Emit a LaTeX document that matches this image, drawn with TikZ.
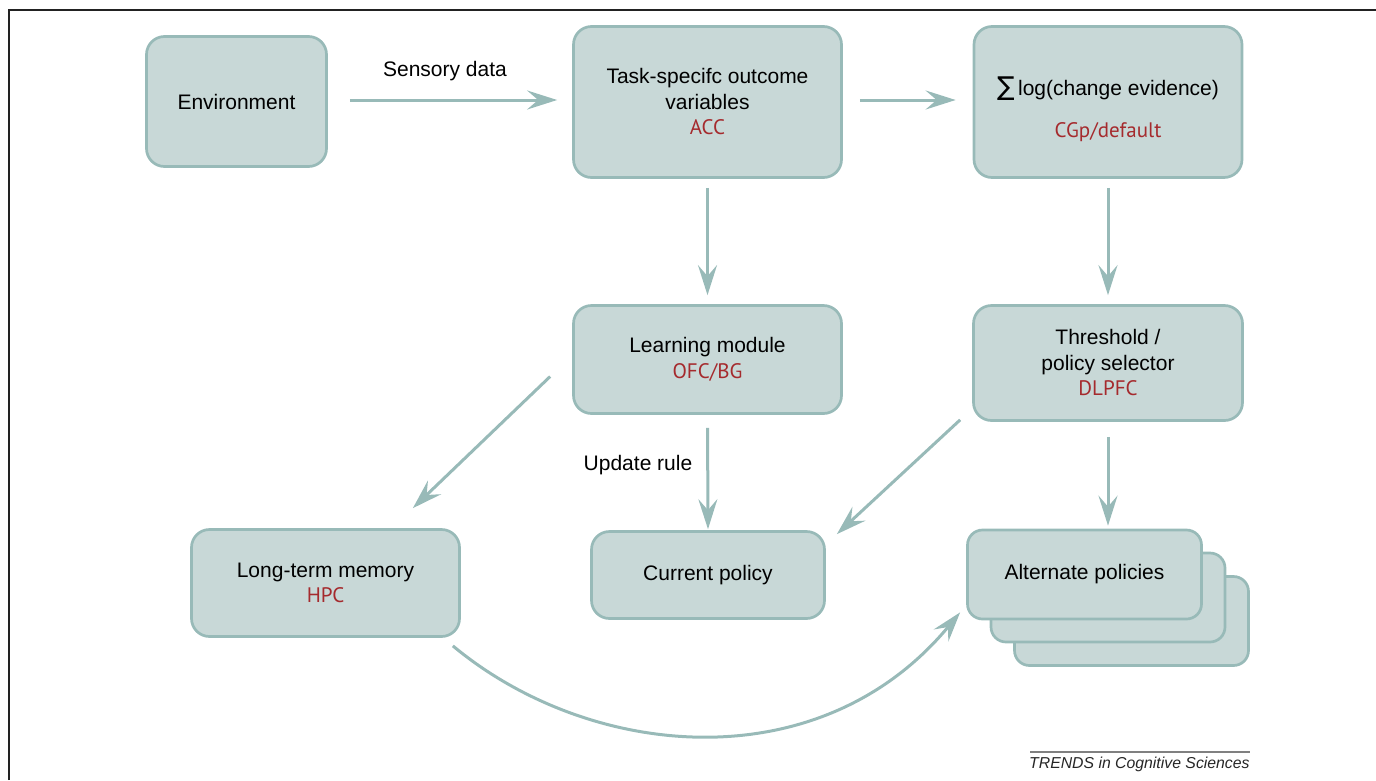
\documentclass[tikz,border=0pt]{standalone}
\usepackage{fontspec}
\setmainfont{Liberation Sans}
\newfontfamily\regfont{PT Sans}
\newfontfamily\symfont{DejaVu Sans}
\usetikzlibrary{arrows.meta,calc}
\definecolor{boxfill}{HTML}{C8D8D7}
\definecolor{boxline}{HTML}{98BAB8}
\definecolor{regred}{HTML}{A52A2D}
\definecolor{framegray}{HTML}{222222}
\newcommand{\reg}[1]{{\regfont\fontsize{21}{25}\selectfont\color{regred}#1}}
\begin{document}
\begin{tikzpicture}[x=1pt,y=-1pt,
  box/.style={draw=boxline, fill=boxfill, line width=2.7pt, rounded corners=18pt,
    align=center, inner sep=0pt, font=\fontsize{21}{25.5}\selectfont},
  altbox/.style={box, rounded corners=15pt, minimum width=234pt, minimum height=89pt},
  conn/.style={draw=boxline, line width=3pt, -{Stealth[length=30pt,width=19pt,inset=11pt]}},
  lbl/.style={font=\fontsize{21}{25.5}\selectfont, inner sep=0pt}]
\useasboundingbox (0,0) rectangle (1376,780);
\draw[framegray, line width=2pt] (9,780) -- (9,10) -- (1376,10);

% boxes
\node[box, minimum width=180pt, minimum height=130pt] (env) at (236.5,101.5) {Environment};
\node[box, minimum width=268pt, minimum height=151pt] (task) at (707.5,102)
  {Task-specifc outcome\\variables\\\reg{ACC}};
\node[box, minimum width=268pt, minimum height=151pt,
  label={[name=sigtext, lbl, align=center, yshift=-7pt]center:{\symfont\fontsize{26}{25}\selectfont ∑}\,log(change evidence)\\[16pt]\reg{CGp/default}}]
  (sigma) at (1108,102) {};
\node[box, minimum width=268pt, minimum height=108pt] (learn) at (707.5,359.5)
  {Learning module\\\reg{OFC/BG}};
\node[box, minimum width=269pt, minimum height=115pt] (thr) at (1108,363)
  {Threshold /\\policy selector\\\reg{DLPFC}};
\node[box, minimum width=268pt, minimum height=107pt] (ltm) at (325.5,583)
  {Long-term memory\\\reg{HPC}};
\node[box, minimum width=233pt, minimum height=87pt] (cur) at (708,575) {Current policy};
\node[altbox] (alt3) at (1131.5,621) {};
\node[altbox] (alt2) at (1108,597.5) {};
\node[altbox] (alt) at (1084.5,574.5) {Alternate policies};

% labels
\node[lbl] (sens) at (445,71) {Sensory data};
\node[lbl] (upd) at (638,465) {Update rule};

% connectors
\draw[conn, shorten <=22pt, shorten >=15pt] (env.east |- 0,100) -- (task.west |- 0,100);
\draw[conn, shorten <=17pt, shorten >=17pt] (task.east |- 0,100) -- (sigma.west |- 0,100);
\draw[conn, shorten <=9pt, shorten >=9pt] (task.south) -- (learn.north);
\draw[conn, shorten <=9pt, shorten >=9pt] (sigma.south) -- (thr.north);
\draw[conn, shorten <=13pt, shorten >=1pt] (learn.south) -- (cur.north);
\draw[conn, shorten <=15pt, shorten >=3pt] (thr.south) -- (thr.south |- alt.north);
\draw[conn] ($(learn.west)+(-22,17)$) -- ($(ltm.north east)+(-48,-20)$);
\draw[conn] ($(thr.south west)+(-12,-2)$) -- ($(cur.north east)+(11,4)$);
\draw[conn] ($(ltm.south east)+(-8,8)$) .. controls (590,760) and (820,782) .. ($(alt.south west)+(-6,-8)$);

% footer
\draw[gray, line width=1.2pt] (1030,752) -- (1250,752);
\node[anchor=base west, inner sep=0pt, font=\fontsize{15.8}{18}\selectfont\itshape, text=black!85] (src) at (1029,768) {TRENDS in Cognitive Sciences};
\end{tikzpicture}
\end{document}
